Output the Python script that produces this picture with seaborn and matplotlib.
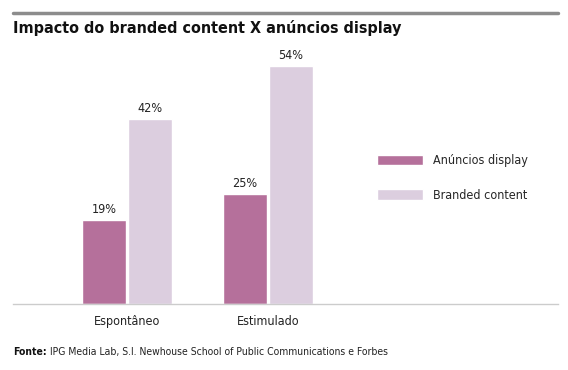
import pandas as pd
import seaborn as sns
import matplotlib.pyplot as plt

categories = ['Espontâneo', 'Estimulado']
series = ['Anúncios display', 'Branded content']
anuncios_display = [19, 25]
branded_content = [42, 54]
colors = ['#b5709b', '#dccedf']

df = pd.DataFrame({
    'categoria': categories * 2,
    'serie': [series[0]] * 2 + [series[1]] * 2,
    'valor': anuncios_display + branded_content,
})

sns.set_style('white')
plt.rcParams['font.family'] = ['DejaVu Sans']
plt.rcParams['font.stretch'] = 'condensed'

fig = plt.figure(figsize=(5.68, 3.70), dpi=100)
ax = fig.add_axes([13 / 568, 66 / 370, 545 / 568, 244 / 370])

sns.barplot(data=df, x='categoria', y='valor', hue='serie', palette=colors,
            width=0.652, gap=0.043, saturation=1, ax=ax)

for cont in ax.containers:
    ax.bar_label(cont, fmt='%d%%', padding=3, fontsize=9, color='#222222')

ax.set_xlim(-0.8085, 3.0567)
ax.set_ylim(0, 55.45)
ax.set_xlabel('')
ax.set_ylabel('')
ax.set_yticks([])
ax.tick_params(axis='x', length=0, labelsize=9, pad=8, colors='#222222')
sns.despine(ax=ax, left=True)
ax.spines['bottom'].set_color('#cccccc')
ax.spines['bottom'].set_linewidth(1)

sns.move_legend(ax, loc='upper left', bbox_to_anchor=(377 / 568, 1 - 154 / 370),
                bbox_transform=fig.transFigure, frameon=False, title=None,
                fontsize=9, handlelength=3.7, handleheight=0.9,
                labelspacing=1.75, handletextpad=0.75, borderpad=0, borderaxespad=0)

# linha cinza no topo
fig.add_artist(plt.Line2D([13 / 568, 558 / 568], [1 - 13 / 370] * 2,
                          color='#8c8c8c', linewidth=2.5))
fig.text(13 / 568, 1 - 28 / 370, 'Impacto do branded content X anúncios display',
         fontsize=11.5, fontweight='bold', va='center', ha='left', color='#111111')

t = fig.text(13 / 568, 1 - 352 / 370, 'Fonte:', fontsize=7.5, fontweight='bold',
             va='center', ha='left', color='#111111')
fig.canvas.draw()
bb = t.get_window_extent()
fig.text((bb.x1 + 3) / 568, 1 - 352 / 370,
         'IPG Media Lab, S.I. Newhouse School of Public Communications e Forbes',
         fontsize=7.5, va='center', ha='left', color='#222222')

fig.savefig('out.png', dpi=100)
